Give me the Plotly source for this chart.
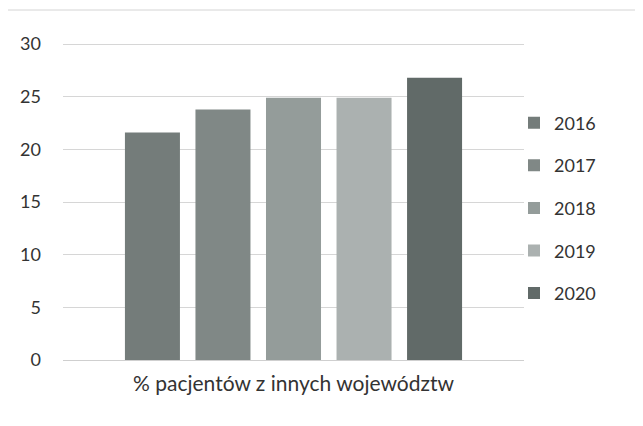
import plotly.graph_objects as go

category = ["% pacjentów z innych województw"]
years = ["2016", "2017", "2018", "2019", "2020"]
values = [21.6, 23.8, 24.9, 24.9, 26.8]
colors = ["#747c7a", "#808886", "#949c9a", "#abb1b0", "#616a68"]
y_ticks = [0, 5, 10, 15, 20, 25, 30]

fig = go.Figure()
for yr, v, c in zip(years, values, colors):
    fig.add_trace(go.Bar(name=yr, x=category, y=[v], marker=dict(color=c, line=dict(width=0)),
                         legendgroup=yr))

font = "Lato, 'Open Sans', sans-serif"
L, T, W, H = 55, 34, 461, 318
fig.update_layout(
    width=643, height=426,
    margin=dict(l=L, r=643 - L - W, t=T, b=426 - T - H, autoexpand=False),
    paper_bgcolor="white", plot_bgcolor="white",
    barmode="group", bargap=0.235, bargroupgap=0.22,
    font=dict(family=font, size=18, color="#333333"),
    showlegend=True,
    legend=dict(x=(514 - 8 - L) / W, y=1 - (200 - T) / H, xanchor="left", yanchor="middle",
                tracegroupgap=16.2,
                font=dict(size=18, color="#333333"), bgcolor="rgba(0,0,0,0)",
                itemwidth=30),
    xaxis=dict(showgrid=False, showline=False, ticks="", ticklabelstandoff=9, automargin=False,
               tickfont=dict(size=21, color="#333333")),
    yaxis=dict(range=[0, 30.2], tickvals=y_ticks, showgrid=True, gridcolor="#d6d6d6", gridwidth=1,
               zeroline=True, zerolinecolor="#cfcfcf", zerolinewidth=1, showline=False,
               automargin=False,
               ticks="", ticklabelstandoff=21, tickfont=dict(size=18, color="#333333")),
    shapes=[dict(type="line", xref="paper", yref="paper",
                 x0=-L / W, x1=(643 - L) / W, y0=1 + (T - 2) / H, y1=1 + (T - 2) / H,
                 line=dict(color="#d4d4d4", width=1))],
)
fig.write_html("out.html")
